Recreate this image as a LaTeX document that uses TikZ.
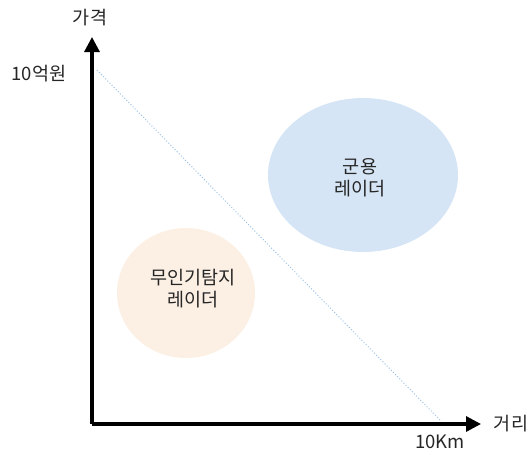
\documentclass[tikz,border=0pt]{standalone}
\usepackage{fontspec}
\setmainfont{Noto Sans CJK KR}
\usetikzlibrary{arrows.meta}
\definecolor{bluefill}{HTML}{D5E5F5}
\definecolor{peachfill}{HTML}{FCEFE3}
\definecolor{dotblue}{HTML}{9DC3E6}
\definecolor{txt}{HTML}{262626}
\tikzset{
  axis/.style={line width=3.2pt, -{Triangle[length=15pt,width=15pt]}},
  lbl/.style={text=txt, font=\fontsize{18.5pt}{22pt}\selectfont, inner sep=0pt, align=center},
}
\begin{document}
\begin{tikzpicture}[x=1pt,y=-1pt]
\useasboundingbox (0,0) rectangle (531,453);
\coordinate (O) at (92,424);
\coordinate (ytip) at (92,37);
\coordinate (xtip) at (481,424);
\fill[bluefill] (363,175) ellipse [x radius=95, y radius=77];
\fill[peachfill] (186,293) ellipse [x radius=69, y radius=65];
\node[lbl] (mil) at (360,178) {군용\\레이더};
\node[lbl] (uav) at (193,289) {무인기탐지\\레이더};
\coordinate (d1) at (97,70);
\coordinate (d2) at (441,421);
\draw[dotblue, line width=1pt, dotted] (d1) -- (d2);
\draw[axis] (O) -- (ytip);
\draw[axis] (O) -- (xtip);
\node[lbl] (ylab) at (90,18) {가격};
\node[lbl] (ymax) at (39,74) {10억원};
\node[lbl] (xlab) at (511,424) {거리};
\node[lbl] (xmax) at (440,442) {10Km};
\end{tikzpicture}
\end{document}
